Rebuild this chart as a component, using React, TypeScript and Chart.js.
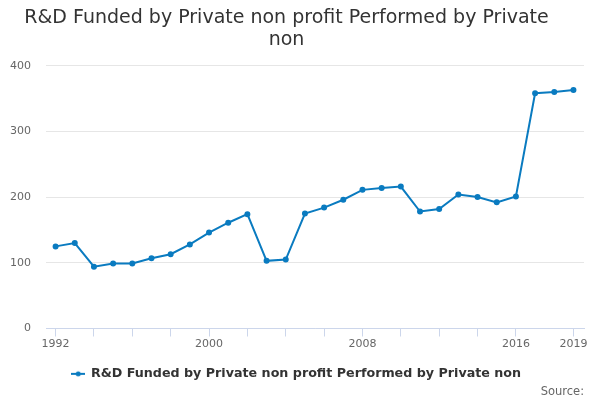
import React, { useEffect, useRef } from 'react';
import { Chart, registerables } from 'chart.js';

Chart.register(...registerables);

const years = [
  1992, 1993, 1994, 1995, 1996, 1997, 1998, 1999, 2000, 2001, 2002, 2003, 2004, 2005,
  2006, 2007, 2008, 2009, 2010, 2011, 2012, 2013, 2014, 2015, 2016, 2017, 2018, 2019,
];
const values = [
  125, 130, 94, 99, 99, 107, 113, 128, 146, 161, 174, 103, 105, 175,
  184, 196, 211, 214, 216, 178, 182, 204, 200, 192, 201, 358, 360, 363,
];
const tickYears = [1992, 1994, 1996, 1998, 2000, 2002, 2004, 2006, 2008, 2010, 2012, 2014, 2016, 2019];
const labelYears = [1992, 2000, 2008, 2016, 2019];

const seriesName = 'R&D Funded by Private non profit Performed by Private non';
const lineColor = '#0a7bc0';
const font = '"DejaVu Sans", sans-serif';

function legendSymbol(): HTMLCanvasElement {
  const c = document.createElement('canvas');
  c.width = 14;
  c.height = 8;
  const ctx = c.getContext('2d')!;
  ctx.strokeStyle = lineColor;
  ctx.lineWidth = 2;
  ctx.beginPath();
  ctx.moveTo(0, 4);
  ctx.lineTo(14, 4);
  ctx.stroke();
  ctx.fillStyle = lineColor;
  ctx.beginPath();
  ctx.arc(7, 4, 2.5, 0, Math.PI * 2);
  ctx.fill();
  return c;
}

// the source chart centres its title a little left of the canvas middle
const titleShift = {
  id: 'titleShift',
  afterLayout(chart: any) {
    const t = chart.titleBlock;
    if (t) {
      t.left -= 10;
      t.right -= 10;
    }
  },
};

const App: React.FC = () => {
  const canvasRef = useRef<HTMLCanvasElement | null>(null);

  useEffect(() => {
    document.body.style.margin = '0';
    if (!canvasRef.current) return;
    const symbol = legendSymbol();

    const chart = new Chart(canvasRef.current, {
      type: 'line',
      data: {
        datasets: [
          {
            label: seriesName,
            data: years.map((y, i) => ({ x: y, y: values[i] })),
            borderColor: lineColor,
            backgroundColor: lineColor,
            borderWidth: 2,
            pointRadius: 2,
            pointHoverRadius: 2,
            tension: 0,
          },
        ],
      },
      options: {
        animation: false,
        responsive: false,
        layout: { padding: { left: 9, right: 16, top: 7, bottom: 1 } },
        plugins: {
          title: {
            display: true,
            text: ['R&D Funded by Private non profit Performed by Private', 'non'],
            color: '#333333',
            font: { family: font, size: 19, weight: 'normal', lineHeight: 1.15 },
            padding: { top: 0, bottom: 15 },
          },
          subtitle: {
            display: true,
            position: 'bottom',
            align: 'end',
            text: 'Source:',
            color: '#666666',
            font: { family: font, size: 11.5, weight: 'normal' },
            padding: { top: -5, bottom: 0 },
          },
          legend: {
            position: 'bottom',
            labels: {
              usePointStyle: true,
              pointStyle: symbol,
              color: '#333333',
              font: { family: font, size: 12.7, weight: 'bold' },
              padding: 1,
              generateLabels: () => [
                {
                  text: seriesName,
                  pointStyle: symbol,
                  fillStyle: lineColor,
                  strokeStyle: lineColor,
                  lineWidth: 0,
                  fontColor: '#333333',
                  datasetIndex: 0,
                  hidden: false,
                },
              ],
            },
          },
          tooltip: { enabled: false },
        },
        scales: {
          x: {
            type: 'linear',
            min: 1991.5,
            max: 2019.55,
            afterBuildTicks: (scale: any) => {
              scale.ticks = tickYears.map((v) => ({ value: v }));
            },
            afterFit: (scale: any) => {
              scale.height = 38;
            },
            ticks: {
              autoSkip: false,
              maxRotation: 0,
              color: '#666666',
              font: { family: font, size: 11 },
              padding: 1,
              callback: (v: any) => (labelYears.includes(Number(v)) ? String(v) : ''),
            },
            grid: {
              drawOnChartArea: false,
              drawTicks: true,
              tickLength: 8,
              tickColor: '#ccd6eb',
            },
            border: { color: '#ccd6eb', width: 1 },
          },
          y: {
            min: 0,
            max: 400,
            afterFit: (scale: any) => {
              scale.width = 37;
            },
            ticks: {
              stepSize: 100,
              color: '#666666',
              font: { family: font, size: 11 },
              padding: 15,
            },
            grid: { color: '#e6e6e6', drawTicks: false },
            border: { display: false },
          },
        },
      },
      plugins: [titleShift],
    });

    return () => {
      chart.destroy();
    };
  }, []);

  return (
    <div style={{ width: 600, height: 400 }}>
      <canvas ref={canvasRef} width={600} height={400} style={{ width: '600px', height: '400px' }} />
    </div>
  );
};

export default App;
